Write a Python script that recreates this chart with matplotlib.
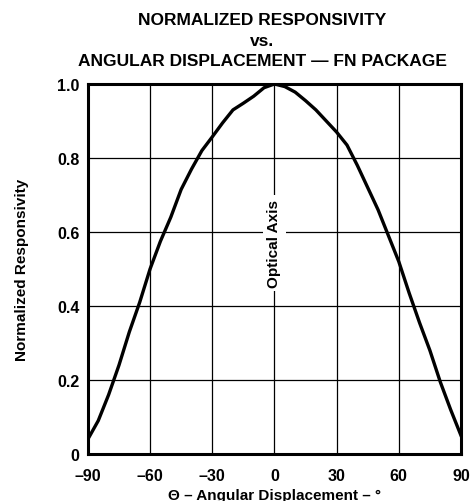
import matplotlib
matplotlib.use("Agg")
import matplotlib.pyplot as plt
import numpy as np

plt.rcParams['font.family'] = ['Liberation Sans', 'DejaVu Sans']
plt.rcParams['font.weight'] = 'bold'

# responsivity curve
angles = [-90, -85, -80, -75, -70, -65, -60, -55, -50, -45, -40, -35, -30,
          -25, -20, -15, -10, -5, 0, 5, 10, 15, 20, 25, 30, 35, 40, 45,
          50, 55, 60, 65, 70, 75, 80, 85, 90]
resp = [0.04, 0.09, 0.16, 0.24, 0.33, 0.41, 0.50, 0.575, 0.64, 0.715, 0.77,
        0.82, 0.857, 0.895, 0.93, 0.948, 0.967, 0.99, 1.0, 0.993, 0.978,
        0.955, 0.93, 0.90, 0.87, 0.835, 0.78, 0.72, 0.66, 0.59, 0.52,
        0.435, 0.355, 0.28, 0.195, 0.12, 0.05]

xticks = [-90, -60, -30, 0, 30, 60, 90]
xlabels = ['–90', '–60', '–30', '0', '30', '60', '90']
yticks = [0, 0.2, 0.4, 0.6, 0.8, 1.0]
ylabels = ['0', '0.2', '0.4', '0.6', '0.8', '1.0']

fig = plt.figure(figsize=(4.75, 5.02), dpi=100)
ax = fig.add_axes([0.185, 0.0936, 0.7855, 0.7371])

ax.plot(angles, resp, color='black', lw=2.4, zorder=3)

ax.set_xlim(-90, 90)
ax.set_ylim(0, 1.0)
ax.set_xticks(xticks)
ax.set_xticklabels(xlabels)
ax.set_yticks(yticks)
ax.set_yticklabels(ylabels)
ax.tick_params(length=0, labelsize=11.5, pad=6)
ax.tick_params(axis='x', pad=10)
ax.grid(True, color='black', lw=0.9)
for s in ax.spines.values():
    s.set_linewidth(2.2)

ax.text(0, 0.57, 'Optical Axis', rotation=90, ha='center', va='center',
        fontsize=11, fontweight='bold', zorder=4,
        bbox=dict(facecolor='white', edgecolor='none', pad=3))

ax.set_ylabel('Normalized Responsivity', fontsize=11, fontweight='bold', labelpad=20)
ax.set_xlabel('Θ – Angular Displacement – °', fontsize=11, fontweight='bold', labelpad=4)

fig.text(0.5516, 0.918, 'NORMALIZED RESPONSIVITY\nvs.\nANGULAR DISPLACEMENT — FN PACKAGE',
         ha='center', va='center', fontsize=12.5, fontweight='bold', linespacing=1.45)

fig.savefig('out.png', dpi=100)
